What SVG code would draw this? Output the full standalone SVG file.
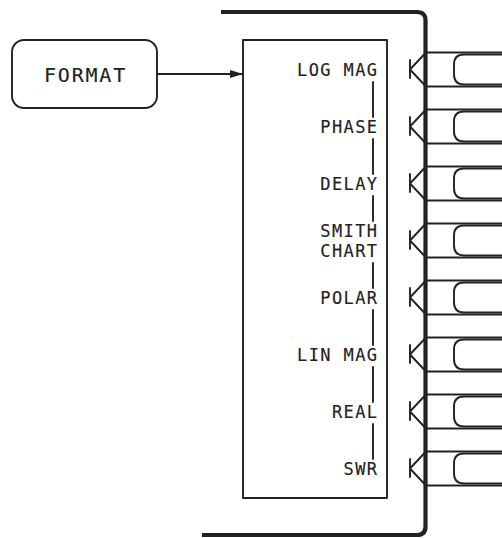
<svg xmlns="http://www.w3.org/2000/svg" width="502" height="538" viewBox="0 0 502 538">
<style>
.ln{fill:none;stroke:#222;stroke-width:1.9;stroke-linecap:round;stroke-linejoin:round}
.thick{fill:none;stroke:#222;stroke-width:4.2;stroke-linejoin:round}
.lbl{font-family:"DejaVu Sans Mono","Liberation Mono",monospace;font-size:17px;letter-spacing:1.4px;fill:#222;stroke:#222;stroke-width:0.15;text-anchor:end}
.fmt{font-family:"DejaVu Sans Mono","Liberation Mono",monospace;font-size:20px;letter-spacing:1.8px;fill:#222;stroke:#222;stroke-width:0.15;text-anchor:middle}
</style>
<defs>
<marker id="arr" viewBox="0 0 10 8" refX="10" refY="4" markerWidth="13" markerHeight="8" markerUnits="userSpaceOnUse" orient="auto" preserveAspectRatio="none">
<path d="M0,0 L10,4 L0,8 Z" fill="#222"/>
</marker>
<g id="btn">
<path class="ln" d="M425,-17 H502 M425,17 H502"/>
<path class="ln" d="M510,-15 H464 Q454,-15 454,-5 V5 Q454,15 464,15 H510"/>
<path class="ln" d="M410,-9.5 V8.5 M425,-16 L410,0 L425,16"/>
</g>
</defs>
<rect width="502" height="538" fill="#fff"/>
<g id="frame">
<path class="thick" d="M221,12 H417 Q425.5,12 425.5,20.5 V526.5 Q425.5,535 417,535 H202"/>
</g>
<g id="format">
<rect class="ln" x="12" y="40" width="145" height="68" rx="12"/>
<text class="fmt" x="85.5" y="81.5">FORMAT</text>
</g>
<g id="menu">
<rect class="ln" x="243" y="40" width="144" height="458"/>
<text class="lbl" x="378.5" y="75.5">LOG MAG</text>
<text class="lbl" x="378.5" y="132.5">PHASE</text>
<text class="lbl" x="378.5" y="189.5">DELAY</text>
<text class="lbl" x="378.5" y="236.5">SMITH</text>
<text class="lbl" x="378.5" y="256.5">CHART</text>
<text class="lbl" x="378.5" y="303.5">POLAR</text>
<text class="lbl" x="378.5" y="360.5">LIN MAG</text>
<text class="lbl" x="378.5" y="417.5">REAL</text>
<text class="lbl" x="378.5" y="474.5">SWR</text>
</g>
<g id="softkeys">
<use href="#btn" y="69.5"/>
<use href="#btn" y="126.5"/>
<use href="#btn" y="183.5"/>
<use href="#btn" y="240.5"/>
<use href="#btn" y="297.5"/>
<use href="#btn" y="354.5"/>
<use href="#btn" y="411.5"/>
<use href="#btn" y="468.5"/>
</g>
<g id="connectors">
<path class="ln" d="M157,74 H243" marker-end="url(#arr)"/>
<path class="ln" d="M373,82 V117 M373,139 V174 M373,196 V221 M373,263 V288 M373,310 V345 M373,367 V402 M373,424 V459"/>
</g>
</svg>
